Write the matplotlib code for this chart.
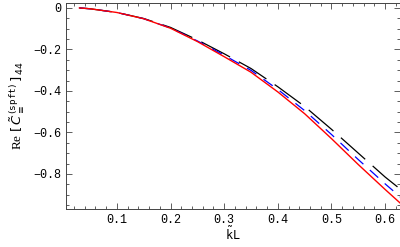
import matplotlib
matplotlib.use('Agg')
from matplotlib import pyplot as plt
from matplotlib.ticker import MultipleLocator

# kL values and Re[C]_44
kl = [0.03, 0.05, 0.1, 0.15, 0.2, 0.25, 0.3, 0.35, 0.4, 0.45, 0.5, 0.55, 0.6, 0.63]
red = [0.0, -0.004, -0.022, -0.052, -0.098, -0.162, -0.235, -0.31, -0.405,
       -0.51, -0.63, -0.755, -0.875, -0.945]
blue = [0.0, -0.004, -0.022, -0.052, -0.097, -0.159, -0.228, -0.301, -0.393,
        -0.495, -0.61, -0.731, -0.848, -0.915]
black = [0.0, -0.004, -0.022, -0.051, -0.094, -0.154, -0.221, -0.292, -0.38,
         -0.475, -0.585, -0.70, -0.815, -0.877]

xticks = [0.1, 0.2, 0.3, 0.4, 0.5, 0.6]
yticks = [0, -0.2, -0.4, -0.6, -0.8]
ytick_labels = ['0', '\u22120.2', '\u22120.4', '\u22120.6', '\u22120.8']

fig = plt.figure(figsize=(4, 2.47), dpi=100)
ax = fig.add_axes([0.165, 0.154, 0.834, 0.834])

ax.plot(kl, black, color='black', lw=0.9, dashes=(26, 8))
ax.plot(kl, blue, color='blue', lw=0.9, dashes=(9, 7))
ax.plot(kl, red, color='red', lw=1.0)

ax.set_xlim(0.005, 0.627)
ax.set_ylim(-0.969, 0.024)
ax.set_xticks(xticks)
ax.set_xticklabels(['%.1f' % t for t in xticks])
ax.set_yticks(yticks)
ax.set_yticklabels(ytick_labels)
ax.xaxis.set_minor_locator(MultipleLocator(0.02))
ax.yaxis.set_minor_locator(MultipleLocator(0.05))
ax.tick_params(which='both', direction='in', top=True, right=True,
               color='#444444', width=0.6)
ax.tick_params(which='major', length=4)
ax.tick_params(which='minor', length=2)
for lab in ax.get_xticklabels() + ax.get_yticklabels():
    lab.set_family(['Liberation Mono', 'DejaVu Sans Mono'])
    lab.set_fontsize(8.5)
for s in ax.spines.values():
    s.set_color('#444444')
    s.set_linewidth(0.7)

ax.set_xlabel(r'$\tilde{\mathtt{k}}\mathtt{L}$', fontsize=8.5, labelpad=0)
ax.set_ylabel(r'Re $[\,\tilde{C}^{\,(\mathtt{spft})}_{\equiv}\,]_{\,44}$',
              fontsize=9.5, labelpad=5, family='Liberation Serif')

fig.savefig('out.png', dpi=100)
